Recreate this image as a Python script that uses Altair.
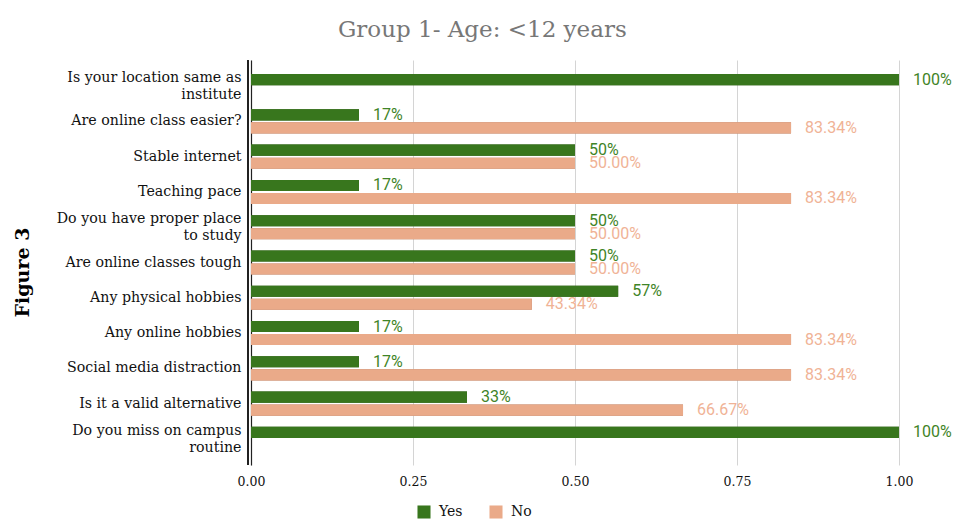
import altair as alt
import pandas as pd

# Survey answers for the youngest group (share of respondents)
questions = [
    "Is your location same as\ninstitute",
    "Are online class easier?",
    "Stable internet",
    "Teaching pace",
    "Do you have proper place\nto study",
    "Are online classes tough",
    "Any physical hobbies",
    "Any online hobbies",
    "Social media distraction",
    "Is it a valid alternative",
    "Do you miss on campus\nroutine",
]
yes_share = [1.0, 0.1666, 0.5, 0.1666, 0.5, 0.5, 0.5666, 0.1666, 0.1666, 0.3333, 1.0]
no_share = [0.0, 0.8334, 0.5, 0.8334, 0.5, 0.5, 0.4334, 0.8334, 0.8334, 0.6667, 0.0]
answers = ["Yes", "No"]

GREEN, ORANGE = "#38761d", "#eaaa89"
GREEN_DARK, ORANGE_DARK = "#24500f", "#a8765f"
GREEN_TEXT, ORANGE_TEXT = "#3f8427", "#f0b396"

rows = []
for q, y, n in zip(questions, yes_share, no_share):
    rows.append({"question": q, "answer": "Yes", "share": y,
                 "label": f"{y:.0%}", "shade": GREEN_DARK, "ink": GREEN_TEXT})
    rows.append({"question": q, "answer": "No", "share": n,
                 "label": f"{n:.2%}", "shade": ORANGE_DARK, "ink": ORANGE_TEXT})
df = pd.DataFrame(rows)

serif = "DejaVu Serif"

y_enc = alt.Y(
    "question:N",
    sort=questions,
    scale=alt.Scale(paddingInner=0, paddingOuter=0.24),
    axis=alt.Axis(
        title="Figure 3",
        titleFont=serif,
        titleFontSize=19,
        titleFontWeight="bold",
        titleColor="#000000",
        titleAngle=270,
        titleAlign="center",
        titleBaseline="middle",
        titleX=-229,
        titleY=212,
        labelExpr="split(datum.label, '\\n')",
        labelFont=serif,
        labelFontSize=14.2,
        labelColor="#111111",
        labelPadding=10,
        labelLineHeight=17,
        labelLimit=400,
        labelOffset={"condition": {"test": "indexof(datum.label, '\\n') >= 0", "value": -8},
                     "value": 0},
        ticks=False,
        domain=True,
        domainColor="#222222",
        domainWidth=1.2,
        grid=False,
    ),
)
yoff = alt.YOffset(
    "answer:N",
    sort=answers,
    scale=alt.Scale(domain=answers, paddingInner=0.15, paddingOuter=0.43),
)
x_enc = alt.X(
    "share:Q",
    scale=alt.Scale(domain=[0, 1], nice=False),
    axis=alt.Axis(
        title=None,
        values=[0, 0.25, 0.5, 0.75, 1.0],
        format=".2f",
        labelFont=serif,
        labelFontSize=12.5,
        labelColor="#111111",
        labelPadding=10,
        labelFlush=False,
        ticks=False,
        domain=False,
        grid=True,
        gridColor="#d4d4d4",
        gridWidth=1,
    ),
)

base = alt.Chart(df)

# darker strip under each bar for the bevelled look
shadow = base.transform_filter("datum.share > 0").mark_bar(yOffset=2).encode(
    y=y_enc, yOffset=yoff, x=x_enc,
    color=alt.Color("shade:N", scale=None),
)

bars = base.transform_filter("datum.share > 0").mark_bar(yOffset=-1).encode(
    y=y_enc, yOffset=yoff, x=x_enc,
    color=alt.Color(
        "answer:N",
        sort=answers,
        scale=alt.Scale(domain=answers, range=[GREEN, ORANGE]),
        legend=alt.Legend(
            title=None,
            orient="none",
            direction="horizontal",
            legendX=166,
            legendY=445,
            symbolType="square",
            symbolSize=170,
            symbolStrokeWidth=0,
            labelFont=serif,
            labelFontSize=14,
            labelColor="#111111",
            columnPadding=26,
            labelOffset=8,
        ),
    ),
)

labels = base.transform_filter("datum.share > 0").mark_text(
    align="left", baseline="middle", dx=14, font="Roboto", fontSize=16
).encode(
    y=y_enc, yOffset=yoff, x=x_enc,
    text="label:N",
    color=alt.Color("ink:N", scale=None),
)

# second line of the doubled axis rule
axis_rule = base.mark_rule(color="#222222", strokeWidth=1.2, xOffset=-3).encode(
    x=alt.datum(0)
)

chart = (
    alt.layer(shadow, bars, labels, axis_rule)
    .resolve_scale(color="independent")
    .properties(
        width=648,
        height=405,
        title=alt.TitleParams(
            "Group 1- Age: <12 years",
            font=serif,
            fontSize=23,
            fontWeight="normal",
            color="#777777",
            anchor="middle",
            frame="bounds",
            offset=17,
        ),
        autosize=alt.AutoSizeParams(type="none"),
        padding={"left": 251, "top": 60, "right": 55, "bottom": 56},
    )
    .configure_view(stroke=None)
)

chart.save("out.html", embed_options={"renderer": "svg", "actions": False})
